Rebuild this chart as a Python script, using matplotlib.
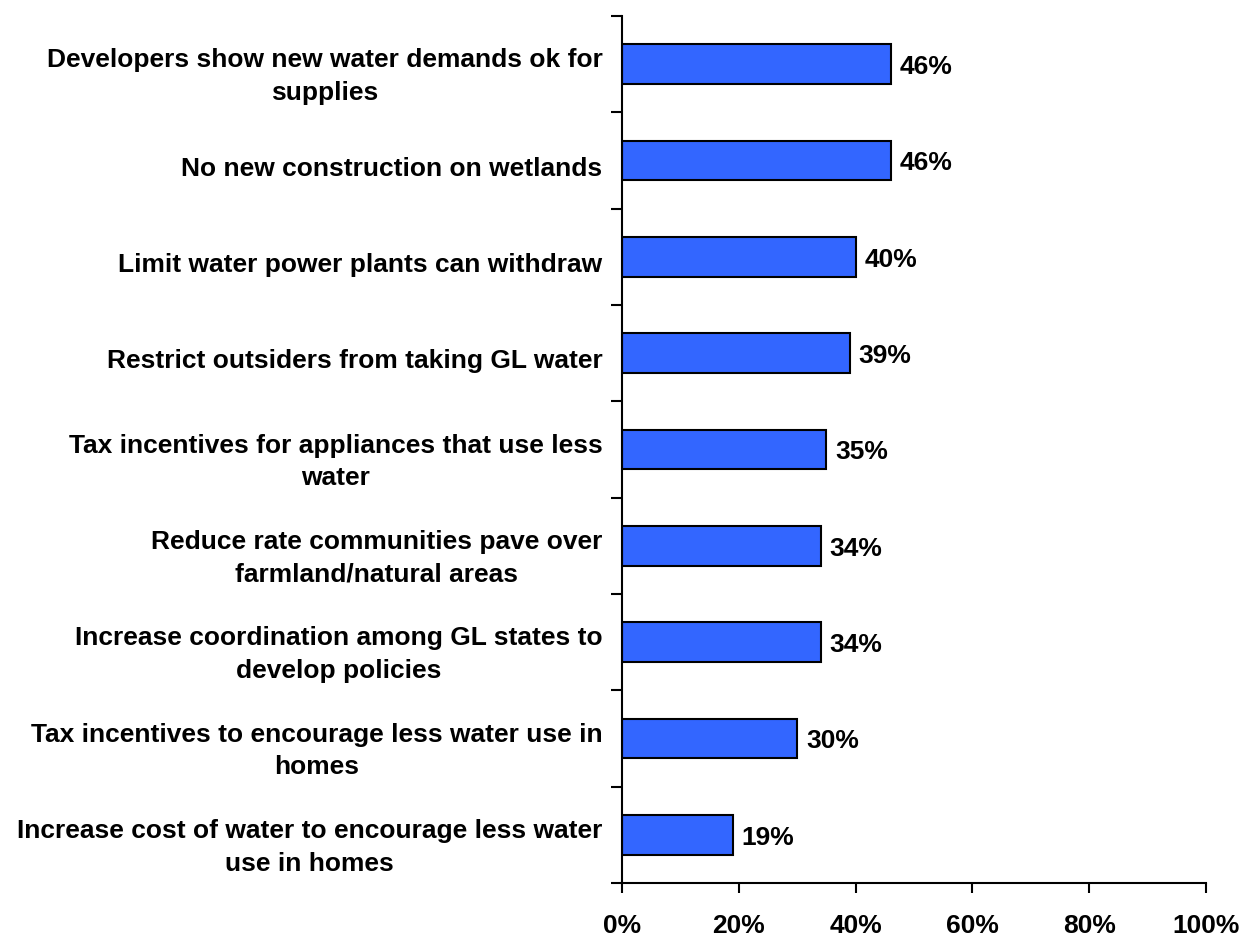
import numpy as np
import matplotlib.pyplot as plt
from matplotlib.ticker import FixedLocator, PercentFormatter

plt.rcParams['font.family'] = ['Liberation Sans', 'DejaVu Sans']
plt.rcParams['font.weight'] = 'bold'

# Categories top to bottom
labels = [
    "Developers show new water demands ok for\nsupplies",
    "No new construction on wetlands",
    "Limit water power plants can withdraw",
    "Restrict outsiders from taking GL water",
    "Tax incentives for appliances that use less\nwater",
    "Reduce rate communities pave over\nfarmland/natural areas",
    "Increase coordination among GL states to\ndevelop policies",
    "Tax incentives to encourage less water use in\nhomes",
    "Increase cost of water to encourage less water\nuse in homes",
]
values = [46, 46, 40, 39, 35, 34, 34, 30, 19]
xticks = [0, 20, 40, 60, 80, 100]

fig = plt.figure(figsize=(12.43, 9.39), dpi=100)
ax = fig.add_axes([0.5004, 0.0596, 0.4698, 0.9234])

n = len(labels)
y = np.arange(n)[::-1]
ax.barh(y, values, height=0.41, color='#3366FF', edgecolor='black', linewidth=1.5)

for yi, v in zip(y, values):
    ax.text(v + 1.5, yi - 0.03, f"{v}%", va='center', ha='left',
            fontsize=19, fontweight='bold')

ax.set_xlim(0, 100)
ax.set_ylim(-0.5, n - 0.5)

ax.set_xticks(xticks)
ax.xaxis.set_major_formatter(PercentFormatter(decimals=0))
ax.tick_params(axis='x', direction='out', length=7, width=1.5, pad=15, labelsize=19)

ax.set_yticks(y - 0.06)
ax.set_yticklabels(labels, multialignment='center', linespacing=1.45)
ax.yaxis.set_minor_locator(FixedLocator(np.arange(n + 1) - 0.5))
ax.tick_params(axis='y', which='major', length=0, pad=14, labelsize=19)
ax.tick_params(axis='y', which='minor', direction='out', length=8, width=1.5)
for lab in ax.get_xticklabels() + ax.get_yticklabels():
    lab.set_fontweight('bold')

ax.spines['top'].set_visible(False)
ax.spines['right'].set_visible(False)
ax.spines['left'].set_linewidth(1.5)
ax.spines['bottom'].set_linewidth(1.5)

fig.savefig('out.png', dpi=100)
